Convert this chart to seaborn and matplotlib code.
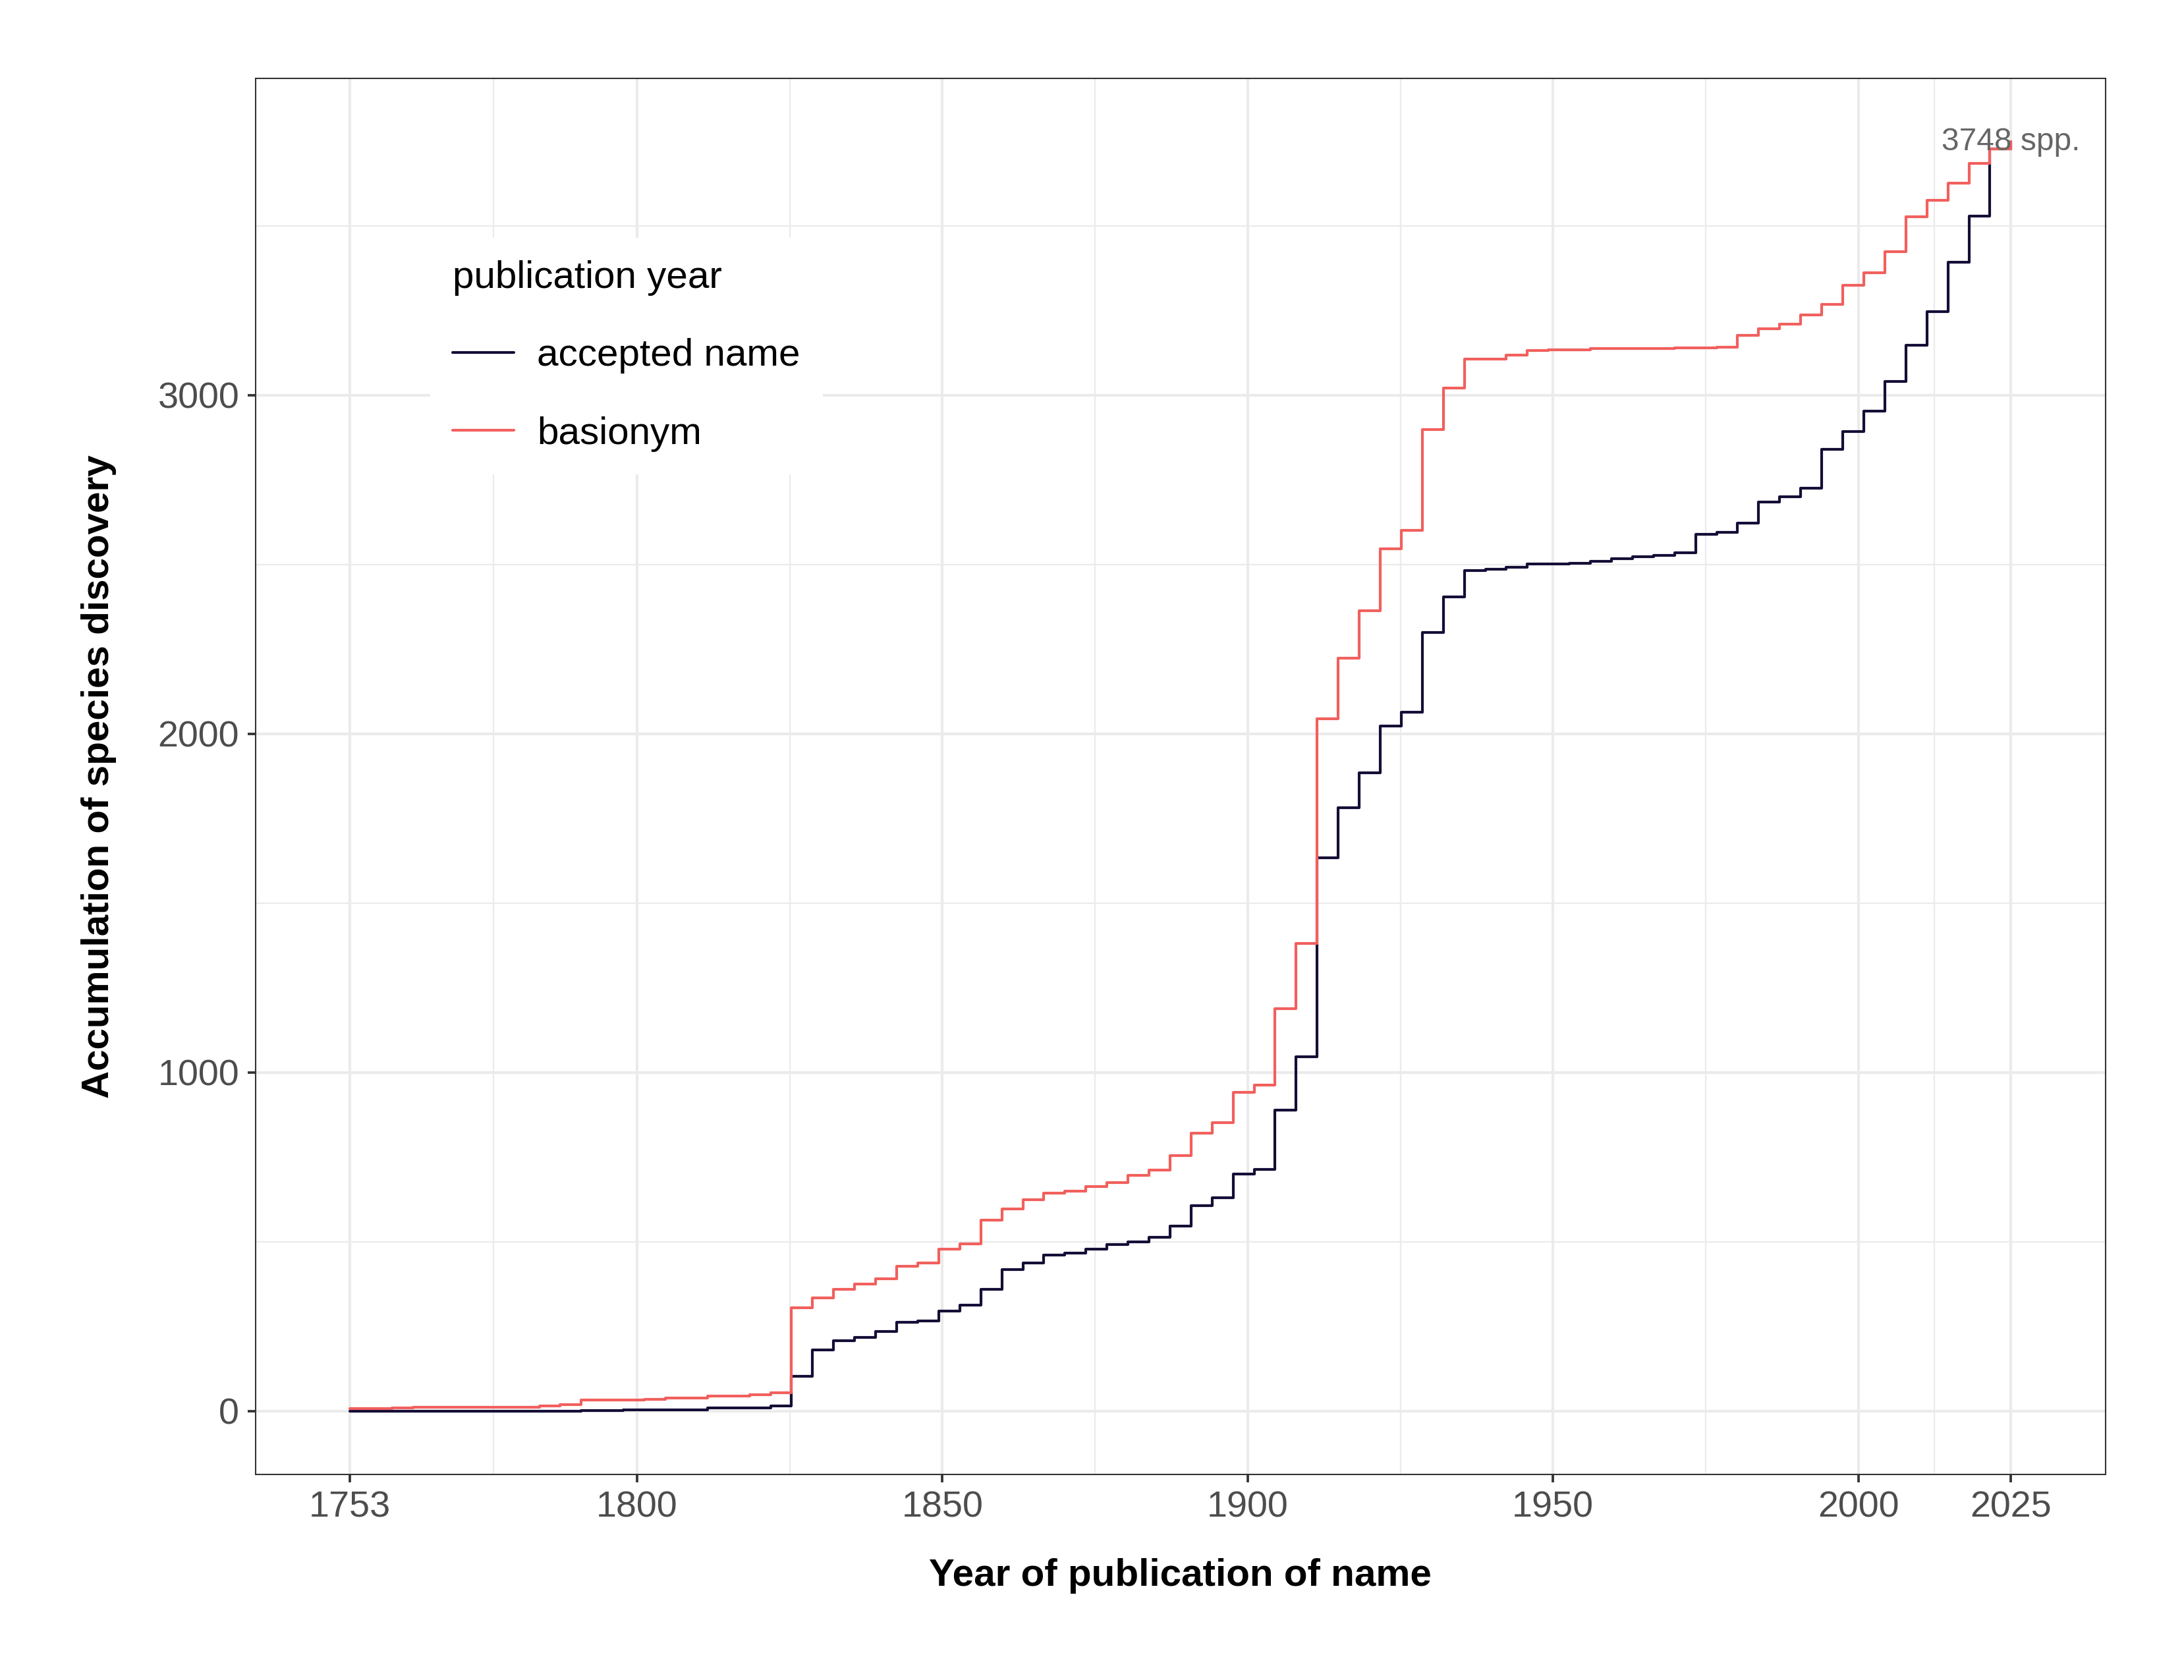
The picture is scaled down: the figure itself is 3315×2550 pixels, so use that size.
import numpy as np
import pandas as pd
import matplotlib
matplotlib.use("Agg")
import matplotlib.pyplot as plt
import seaborn as sns

# cumulative number of species, 80 year bins, bin centres from 1753 to 2025
first_year = 1753
last_year = 2025
n_bins = 80

accepted_name = [
    0, 0, 0, 0, 0, 0, 0, 0, 0, 0,
    0, 2, 2, 4, 4, 4, 4, 9, 9, 9,
    14, 102, 180, 207, 218, 234, 262, 266, 295, 312,
    360, 418, 437, 461, 467, 478, 491, 500, 513, 546,
    607, 630, 699, 713, 889, 1046, 1633, 1781, 1884, 2023,
    2064, 2300, 2404, 2482, 2486, 2492, 2501, 2501, 2504, 2509,
    2517, 2523, 2527, 2535, 2590, 2594, 2622, 2685, 2700, 2726,
    2840, 2892, 2953, 3041, 3147, 3247, 3393, 3529, 3727, 3748,
]
basionym = [
    7, 7, 10, 12, 12, 12, 12, 12, 12, 14,
    18, 32, 32, 32, 34, 38, 38, 45, 45, 48,
    53, 305, 334, 359, 374, 390, 427, 437, 478, 493,
    564, 596, 623, 644, 649, 662, 675, 696, 711, 754,
    820, 852, 942, 962, 1188, 1380, 2045, 2223, 2363, 2546,
    2601, 2899, 3021, 3106, 3107, 3118, 3132, 3133, 3134, 3137,
    3137, 3138, 3138, 3139, 3140, 3142, 3177, 3197, 3210, 3236,
    3268, 3324, 3361, 3424, 3527, 3576, 3627, 3685, 3727, 3748,
]
series_names = ["accepted name", "basionym"]
line_colors = ["#150E37", "#F1605D"]

years = np.linspace(first_year, last_year, n_bins)
df = pd.DataFrame({
    "year": np.concatenate([years, years]),
    "n": accepted_name + basionym,
    "type": [series_names[0]] * n_bins + [series_names[1]] * n_bins,
})

sns.set_theme(style="white")
plt.rcParams["font.family"] = ["Liberation Sans", "DejaVu Sans"]

fig = plt.figure(figsize=(11.05, 8.5), dpi=300)
ax = fig.add_axes([0.11695, 0.12235, 0.96410 - 0.11695, 0.95333 - 0.12235])

sns.lineplot(data=df, x="year", y="n", hue="type", hue_order=series_names,
             palette=line_colors, drawstyle="steps-post", estimator=None,
             linewidth=1.0, ax=ax)

ax.set_xlim(1737.5, 2040.5)
ax.set_ylim(-187.4, 3935.4)
ax.set_xticks([1753, 1800, 1850, 1900, 1950, 2000, 2025])
ax.set_xticks([1776.5, 1825, 1875, 1925, 1975, 2012.5], minor=True)
ax.set_yticks([0, 1000, 2000, 3000])
ax.set_yticks([500, 1500, 2500, 3500], minor=True)

ax.set_axisbelow(True)
ax.grid(which="major", color="#EBEBEB", linewidth=1.0)
ax.grid(which="minor", color="#EBEBEB", linewidth=0.55)
for s in ax.spines.values():
    s.set_visible(True)
    s.set_color("#333333")
    s.set_linewidth(0.5)

ax.tick_params(which="major", bottom=True, left=True, length=2.9, width=0.9,
               color="#333333", labelsize=13.4, labelcolor="#4D4D4D", pad=3)
ax.tick_params(which="minor", length=0)

ax.set_xlabel("Year of publication of name", fontsize=14, fontweight="bold",
              labelpad=12, color="black")
ax.set_ylabel("Accumulation of species discovery", fontsize=14, fontweight="bold",
              labelpad=15, color="black")

ax.text(last_year, basionym[-1], f"{basionym[-1]} spp.", ha="center", va="center",
        fontsize=11.5, color="#666666")

handles, labels = ax.get_legend_handles_labels()
leg = ax.legend(handles, labels, title="publication year", loc="upper left",
                bbox_to_anchor=(0.0952, 0.8848), borderaxespad=0, frameon=True,
                fancybox=False, facecolor="white", edgecolor="white", framealpha=1,
                fontsize=14, title_fontsize=14, handlelength=1.6,
                handletextpad=0.6, labelspacing=1.1, borderpad=0.55,
                alignment="left")
leg.get_title().set_color("black")
for t in leg.get_texts():
    t.set_color("black")

fig.savefig("out.png", dpi=300)
